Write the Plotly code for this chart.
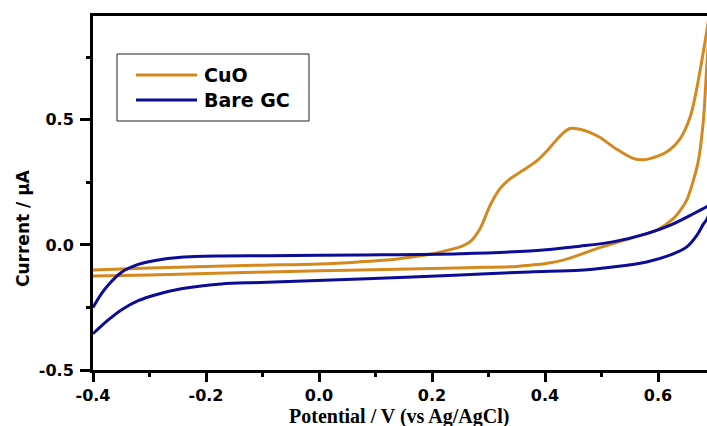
import plotly.graph_objects as go

# Cyclic voltammograms: potential in V vs Ag/AgCl, current in µA
# CuO-modified electrode (anodic sweep followed by the return sweep)
cuo_potential = [
    -0.400, -0.300, -0.200, -0.100, 0.000, 0.070, 0.130, 0.180, 0.202, 0.230,
    0.250, 0.267, 0.285, 0.303, 0.320, 0.338, 0.361, 0.386, 0.404, 0.427,
    0.444, 0.462, 0.485, 0.497, 0.527, 0.556, 0.571, 0.586, 0.615, 0.639,
    0.657, 0.668, 0.677, 0.686, 0.692,
    0.686, 0.680, 0.671, 0.660, 0.651, 0.640, 0.627, 0.598, 0.550, 0.492,
    0.432, 0.396, 0.373, 0.350, 0.262, 0.073, -0.090, -0.200, -0.300, -0.400,
]
cuo_current = [
    -0.100, -0.092, -0.086, -0.081, -0.076, -0.068, -0.058, -0.043, -0.035, -0.020,
    -0.008, 0.012, 0.065, 0.159, 0.224, 0.264, 0.298, 0.337, 0.377, 0.436,
    0.465, 0.462, 0.444, 0.430, 0.382, 0.346, 0.340, 0.345, 0.371, 0.424,
    0.512, 0.618, 0.729, 0.849, 0.930,
    0.702, 0.490, 0.331, 0.238, 0.180, 0.140, 0.105, 0.059, 0.025, -0.015,
    -0.061, -0.076, -0.081, -0.086, -0.091, -0.100, -0.108, -0.114, -0.120, -0.124,
]

# Bare glassy carbon electrode
gc_potential = [
    -0.400, -0.385, -0.373, -0.350, -0.320, -0.290, -0.244, -0.173, -0.090, 0.073,
    0.250, 0.373, 0.462, 0.520, 0.580, 0.621, 0.657, 0.686, 0.695,
    0.687, 0.680, 0.669, 0.651, 0.621, 0.580, 0.520, 0.462, 0.373, 0.250,
    0.073, -0.104, -0.173, -0.244, -0.290, -0.320, -0.350, -0.373, -0.400,
]
gc_current = [
    -0.250, -0.195, -0.160, -0.110, -0.078, -0.062, -0.049, -0.044, -0.043, -0.040,
    -0.035, -0.024, -0.005, 0.012, 0.045, 0.078, 0.118, 0.152, 0.165,
    0.105, 0.082, 0.039, -0.008, -0.041, -0.068, -0.088, -0.101, -0.108, -0.120,
    -0.136, -0.150, -0.156, -0.175, -0.200, -0.223, -0.260, -0.300, -0.355,
]

series_names = ["CuO", "Bare GC"]
series_colors = ["#D4891F", "#0C0C96"]

x_tick_values = [-0.4, -0.2, 0.0, 0.2, 0.4, 0.6]
x_tick_labels = ["-0.4", "-0.2", "0.0", "0.2", "0.4", "0.6"]
x_minor_values = [-0.3, -0.1, 0.1, 0.3, 0.5]
y_tick_values = [-0.5, 0.0, 0.5]
y_tick_labels = ["-0.5", "0.0", "0.5"]
y_minor_values = [-0.25, 0.25, 0.75]

# Page and plot-area geometry (pixels)
W, H = 707, 426
M_L, M_R, M_T, M_B = 93, 0, 16, 56
PW, PH = W - M_L - M_R, H - M_T - M_B
X_RANGE = [-0.4, -0.4 + PW / 565.0]
Y_RANGE = [-0.5, -0.5 + PH / 250.2]


def fx(px):
    """Horizontal page pixel -> paper fraction."""
    return (px - M_L) / PW


def fy(py):
    """Vertical page pixel -> paper fraction."""
    return (H - M_B - py) / PH


sans = "DejaVu Sans, Verdana, sans-serif"
serif = "Liberation Serif, Times New Roman, serif"

fig = go.Figure()
for name, color, xs, ys in zip(series_names, series_colors,
                               [cuo_potential, gc_potential],
                               [cuo_current, gc_current]):
    fig.add_trace(go.Scatter(
        x=xs, y=ys, name=name, mode="lines",
        line=dict(color=color, width=3, shape="spline", smoothing=0.9),
        showlegend=False,
    ))

# Empty trace that carries the overlay axes used for the short intermediate ticks
fig.add_trace(go.Scatter(x=[None], y=[None], xaxis="x2", yaxis="y2",
                         mode="lines", showlegend=False, hoverinfo="skip"))

# Boxed legend with long line samples
shapes = [dict(type="rect", xref="paper", yref="paper",
               x0=fx(117), x1=fx(309), y0=fy(121), y1=fy(54),
               line=dict(color="#222222", width=1), fillcolor="white", layer="above")]
annotations = []
for i, (name, color) in enumerate(zip(series_names, series_colors)):
    row_y = 75 + 25 * i
    shapes.append(dict(type="line", xref="paper", yref="paper",
                       x0=fx(136), x1=fx(197), y0=fy(row_y), y1=fy(row_y),
                       line=dict(color=color, width=3), layer="above"))
    annotations.append(dict(text=name, xref="paper", yref="paper",
                            x=fx(202), y=fy(row_y), xanchor="left", yanchor="middle",
                            showarrow=False,
                            font=dict(family=sans, size=19, color="black", weight="bold")))

# Axis titles
annotations.append(dict(text="Current / µA", xref="paper", yref="paper",
                        x=fx(23), y=fy(228), textangle=-90,
                        xanchor="center", yanchor="middle", showarrow=False,
                        font=dict(family=sans, size=17, color="black", weight="bold")))
annotations.append(dict(text="Potential / V (vs Ag/AgCl)", xref="paper", yref="paper",
                        x=fx(399), y=fy(416), xanchor="center", yanchor="middle",
                        showarrow=False,
                        font=dict(family=serif, size=20, color="black", weight="bold")))

tick_font = dict(family=sans, size=16, color="black", weight="bold")
minor_axis = dict(showline=False, showgrid=False, zeroline=False,
                  showticklabels=False, tickmode="array", ticks="outside",
                  ticklen=6, tickwidth=2.5, tickcolor="black", fixedrange=True)

fig.update_layout(
    width=W, height=H,
    margin=dict(l=M_L, r=M_R, t=M_T, b=M_B, pad=0),
    paper_bgcolor="white", plot_bgcolor="white",
    shapes=shapes, annotations=annotations,
    xaxis=dict(
        range=X_RANGE,
        tickmode="array", tickvals=x_tick_values, ticktext=x_tick_labels,
        ticks="outside", ticklen=9, tickwidth=2.5, tickcolor="black",
        showline=True, linecolor="black", linewidth=3, mirror=True,
        showgrid=False, zeroline=False, tickfont=tick_font,
        fixedrange=True,
    ),
    yaxis=dict(
        range=Y_RANGE,
        tickmode="array", tickvals=y_tick_values, ticktext=y_tick_labels,
        ticks="outside", ticklen=10, tickwidth=2.5, tickcolor="black",
        showline=True, linecolor="black", linewidth=3, mirror=False,
        showgrid=False, zeroline=False, tickfont=tick_font,
        ticklabelstandoff=3,
        fixedrange=True,
    ),
    xaxis2=dict(minor_axis, overlaying="x", anchor="y", side="bottom",
                range=X_RANGE, tickvals=x_minor_values),
    yaxis2=dict(minor_axis, overlaying="y", anchor="x", side="left",
                range=Y_RANGE, tickvals=y_minor_values),
)

fig.write_html("out.html")
